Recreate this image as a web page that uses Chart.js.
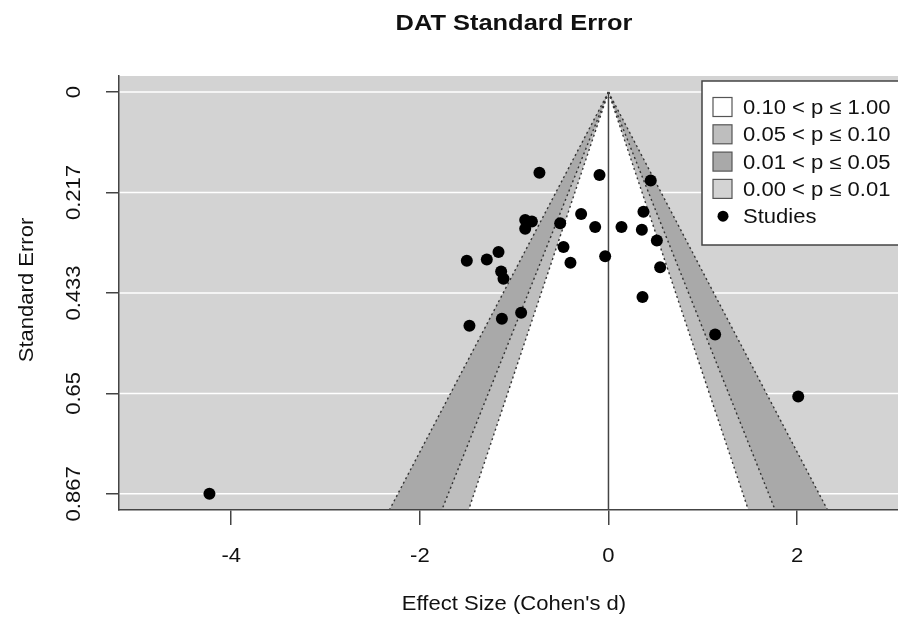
<!DOCTYPE html>
<html>
<head>
<meta charset="utf-8">
<script src="https://cdn.jsdelivr.net/npm/chart.js@4.4.1/dist/chart.umd.min.js"></script>
<style>
  html, body { margin: 0; padding: 0; background: #fff; }
  canvas { display: block; }
</style>
</head>
<body>
<canvas id="funnel" width="898" height="620"></canvas>
<script>
// data
const effectSizes = [-0.732, -0.095, 0.448, -0.290, 0.371, -0.883, -0.812, -0.883, -0.512, -0.141,
    0.138, 0.354, 0.513, -0.477, -1.166, -0.035, -1.502, -1.290, -0.403, 0.548,
    -1.138, -1.113, 0.361, -0.926, -1.130, -1.474, 1.131, 2.012, -4.231];
const standardErrors = [0.174, 0.179, 0.191, 0.263, 0.258, 0.276, 0.279, 0.295, 0.283, 0.291,
    0.291, 0.297, 0.320, 0.334, 0.345, 0.354, 0.364, 0.361, 0.368, 0.378,
    0.387, 0.403, 0.442, 0.476, 0.489, 0.504, 0.523, 0.657, 0.8668];

const xTicks = [-4, -2, 0, 2];
const xTickLabels = ["-4", "-2", "0", "2"];
const yTicks = [0, 0.2167, 0.4334, 0.6501, 0.8668];
const yTickLabels = ["0", "0.217", "0.433", "0.65", "0.867"];

// z values for p = 0.10, 0.05, 0.01 (two sided)
const contourZ = [1.645, 1.96, 2.576];
const contourFills = ["#FFFFFF", "#BEBEBE", "#A9A9A9"];
const backColor = "#D3D3D3";

const legendLabels = ["0.10 < p \u2264 1.00", "0.05 < p \u2264 0.10", "0.01 < p \u2264 0.05", "0.00 < p \u2264 0.01", "Studies"];
const legendFills = ["#FFFFFF", "#BEBEBE", "#A9A9A9", "#D3D3D3"];

const titleText = "DAT Standard Error";
const xTitle = "Effect Size (Cohen's d)";
const yTitle = "Standard Error";

const FONT = "'Liberation Sans', Arial, Helvetica, sans-serif";
const INK = "#111";
const AXIS = "#444";
const STRETCH = 1.13; // reference text is a bit wide

let points = effectSizes.map((d, i) => ({ x: d, y: standardErrors[i] }));

// text drawn a little wider than the font, rotated if asked
function wideText(ctx, text, x, y, font, align, rot) {
    ctx.save();
    ctx.translate(x, y);
    if (rot) ctx.rotate(rot);
    ctx.scale(STRETCH, 1);
    ctx.font = font;
    ctx.textAlign = align;
    ctx.textBaseline = "alphabetic";
    ctx.fillStyle = INK;
    ctx.fillText(text, 0, 0);
    ctx.restore();
}

const funnelPlugin = {
    id: "funnelBack",
    beforeDraw(chart) {
        let ctx = chart.ctx;
        let area = chart.chartArea;
        let xs = chart.scales.x, ys = chart.scales.y;
        let seBottom = ys.max;

        ctx.save();
        ctx.beginPath();
        ctx.rect(area.left, area.top, area.right - area.left, area.bottom - area.top);
        ctx.clip();

        ctx.fillStyle = backColor;
        ctx.fillRect(area.left, area.top, area.right - area.left, area.bottom - area.top);

        // white horizontal lines at the ticks
        ctx.strokeStyle = "#FFFFFF";
        ctx.lineWidth = 1.5;
        yTicks.forEach(v => {
            let py = ys.getPixelForValue(v);
            ctx.beginPath();
            ctx.moveTo(area.left, py);
            ctx.lineTo(area.right, py);
            ctx.stroke();
        });

        // contour regions, widest first
        for (let i = contourZ.length - 1; i >= 0; i--) {
            let z = contourZ[i];
            ctx.fillStyle = contourFills[i];
            ctx.beginPath();
            ctx.moveTo(xs.getPixelForValue(0), ys.getPixelForValue(0));
            ctx.lineTo(xs.getPixelForValue(-z * seBottom), ys.getPixelForValue(seBottom));
            ctx.lineTo(xs.getPixelForValue(z * seBottom), ys.getPixelForValue(seBottom));
            ctx.closePath();
            ctx.fill();
        }

        // dotted contour edges
        ctx.strokeStyle = "#333";
        ctx.lineWidth = 1.4;
        ctx.setLineDash([2, 3]);
        contourZ.forEach(z => {
            [-1, 1].forEach(s => {
                ctx.beginPath();
                ctx.moveTo(xs.getPixelForValue(0), ys.getPixelForValue(0));
                ctx.lineTo(xs.getPixelForValue(s * z * seBottom), ys.getPixelForValue(seBottom));
                ctx.stroke();
            });
        });
        ctx.setLineDash([]);

        // reference line at 0
        ctx.strokeStyle = "#444";
        ctx.lineWidth = 1.5;
        ctx.beginPath();
        ctx.moveTo(xs.getPixelForValue(0), ys.getPixelForValue(0));
        ctx.lineTo(xs.getPixelForValue(0), ys.getPixelForValue(seBottom));
        ctx.stroke();
        ctx.restore();
    },
    afterDraw(chart) {
        let ctx = chart.ctx;
        let area = chart.chartArea;
        let xs = chart.scales.x, ys = chart.scales.y;
        let f = "19.5px " + FONT;

        // tick labels
        xTicks.forEach((v, i) => wideText(ctx, xTickLabels[i], xs.getPixelForValue(v), 561.5, f, "center"));
        yTicks.forEach((v, i) => wideText(ctx, yTickLabels[i], area.left - 39, ys.getPixelForValue(v), f, "center", -Math.PI / 2));

        // axis titles and main title
        wideText(ctx, xTitle, 514, 610, f, "center");
        wideText(ctx, yTitle, 33, 290, f, "center", -Math.PI / 2);
        wideText(ctx, titleText, 514, 30, "bold 22.5px " + FONT, "center");

        // legend
        ctx.save();
        let bx = 702, by = area.top + 5;
        ctx.fillStyle = "#FFFFFF";
        ctx.fillRect(bx, by, 210, 164);
        ctx.strokeStyle = AXIS;
        ctx.lineWidth = 1.5;
        ctx.strokeRect(bx, by, 210, 164);

        legendLabels.forEach((lab, i) => {
            let cy = by + 26 + i * 27.3;
            if (i < legendFills.length) {
                ctx.fillStyle = legendFills[i];
                ctx.fillRect(bx + 11, cy - 9.5, 19, 19);
                ctx.strokeStyle = "#555";
                ctx.lineWidth = 1.2;
                ctx.strokeRect(bx + 11, cy - 9.5, 19, 19);
            } else {
                ctx.fillStyle = "#000";
                ctx.beginPath();
                ctx.arc(bx + 21, cy, 5.5, 0, Math.PI * 2);
                ctx.fill();
            }
            wideText(ctx, lab, bx + 41, cy + 7, f, "left");
        });
        ctx.restore();
    }
};

new Chart(document.getElementById("funnel").getContext("2d"), {
    type: "scatter",
    data: {
        datasets: [{
            label: "Studies",
            data: points,
            backgroundColor: "#000",
            borderWidth: 0,
            pointRadius: 6,
            pointHoverRadius: 6
        }]
    },
    options: {
        responsive: false,
        animation: false,
        devicePixelRatio: 1,
        layout: { autoPadding: false, padding: { top: 76, left: 0, right: 0, bottom: 0 } },
        plugins: {
            legend: { display: false },
            title: { display: false },
            tooltip: { enabled: false }
        },
        scales: {
            x: {
                type: "linear",
                min: -5.19,
                max: 3.07,
                afterBuildTicks: s => { s.ticks = xTicks.map(v => ({ value: v })); },
                afterFit: s => {
                    s.height = 110;
                    s.paddingLeft = 0; s.paddingRight = 0;
                },
                ticks: { display: false },
                grid: { drawOnChartArea: false, tickLength: 15, color: AXIS, lineWidth: 1.5 },
                border: { color: AXIS, width: 1.5 }
            },
            y: {
                type: "linear",
                reverse: true,
                min: -0.0347,
                max: 0.9017,
                afterBuildTicks: s => { s.ticks = yTicks.map(v => ({ value: v })); },
                afterFit: s => {
                    s.width = 119;
                    s.paddingTop = 0; s.paddingBottom = 0;
                },
                ticks: { display: false },
                grid: { drawOnChartArea: false, tickLength: 13, color: AXIS, lineWidth: 1.5 },
                border: { color: AXIS, width: 1.5 }
            }
        }
    },
    plugins: [funnelPlugin]
});
</script>
</body>
</html>
